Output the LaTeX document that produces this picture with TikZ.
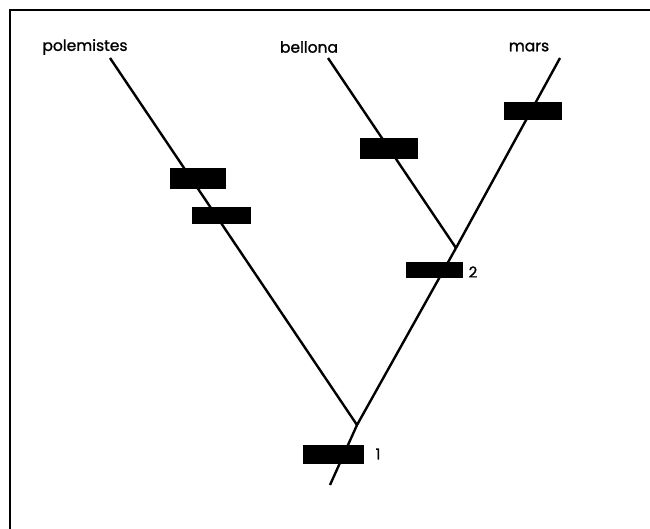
\documentclass[tikz,border=0pt]{standalone}
\usepackage{fontspec}
\setmainfont{Poppins}
\newfontfamily\labfont{Poppins}[FakeBold=1.2]
\begin{document}
\begin{tikzpicture}[x=1pt,y=-1pt,
  branch/.style={line width=2.4pt,black},
  bar/.style={fill=black,draw=black,line width=0.6pt,inner sep=0pt},
  taxon/.style={font=\labfont\fontsize{15.5}{16}\selectfont,inner sep=0pt,anchor=center},
  num/.style={font=\labfont\fontsize{15}{15}\selectfont,inner sep=0pt}]
\useasboundingbox (0,0) rectangle (650,529);
\draw[line width=2pt] (10,529) -- (10,10) -- (650,10);
% labels
\node[taxon] (lp) at (85,47) {polemistes};
\node[taxon] (lb) at (309,47) {bellona};
\node[taxon] (lm) at (529,47) {mars};
% tips and junctions
\coordinate (p) at (110,58);
\coordinate (b) at (328,58);
\coordinate (m) at (560,58);
\coordinate (j2) at (456,248);
\coordinate (j1) at (357,425);
\coordinate (r) at (330,485);
\draw[branch] (p) -- (j1);
\draw[branch] (b) -- (j2);
\draw[branch] (m) -- (j2);
\draw[branch] (j2) -- (j1) -- (r);
% character bars
\node[bar,minimum width=55pt,minimum height=20pt] (bp1) at (197.5,178) {};
\node[bar,minimum width=58pt,minimum height=16pt] (bp2) at (221,215) {};
\node[bar,minimum width=57pt,minimum height=20pt] (bb) at (388.5,148) {};
\node[bar,minimum width=57pt,minimum height=17pt] (bm) at (532.5,110.5) {};
\node[bar,minimum width=56pt,minimum height=15pt] (b2) at (434,269.5) {};
\node[bar,minimum width=60pt,minimum height=18pt] (b1) at (333,454) {};
% node numbers
\node[num] (n2) at (473,272) {2};
\node[num] (n1) at (378,454) {1};
\end{tikzpicture}
\end{document}
